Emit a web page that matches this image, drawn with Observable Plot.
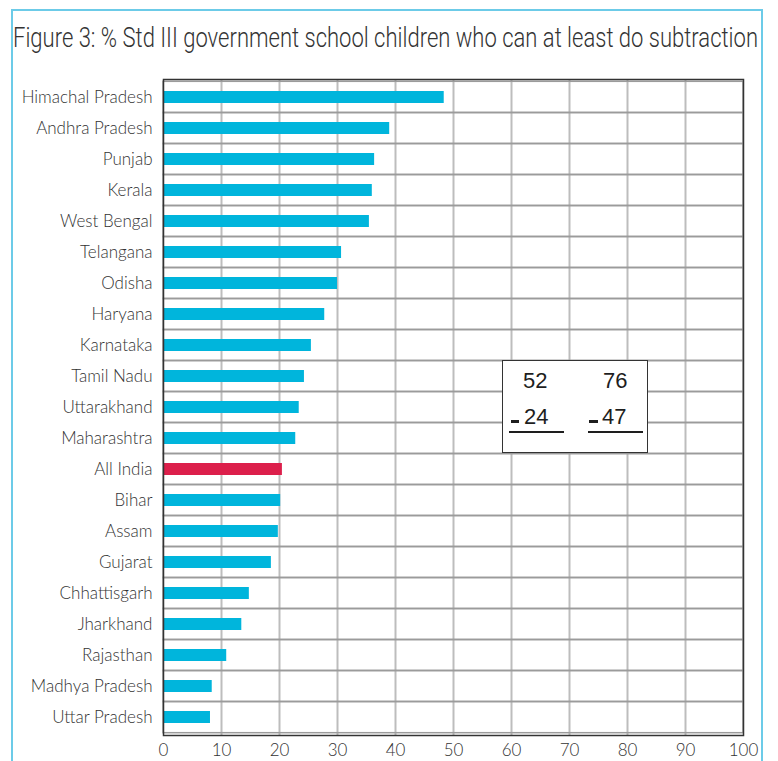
<!DOCTYPE html>
<html>
<head>
<meta charset="utf-8">
<script src="https://cdn.jsdelivr.net/npm/d3@7"></script>
<script src="https://cdn.jsdelivr.net/npm/@observablehq/plot@0.6"></script>
<style>
  html, body { margin: 0; padding: 0; background: #fff; }
  #wrap { position: relative; width: 778px; height: 761px; overflow: hidden; background: #fff; }
  #border { position: absolute; left: 11px; top: 9px; width: 748px; height: 800px;
            border: 2px solid #6ccbe8; border-bottom: none; }
  #title { position: absolute; left: 13px; top: 24px; white-space: nowrap; line-height: 1;
           font-family: Roboto, "Noto Sans", sans-serif; font-weight: 300; font-size: 28px;
           color: #333; transform-origin: 0 0; }
  #chart { position: absolute; left: 0; top: 69px; }
  #chart svg text { font-weight: 300; }
  #inset { position: absolute; left: 502px; top: 360px; width: 144px; height: 91px;
           border: 1.5px solid #333; background: #fff;
           font-family: "Liberation Sans", Arial, sans-serif; font-size: 22px; color: #1e1e1e; }
  .num { position: absolute; line-height: 1; }
  .minus { position: absolute; height: 3px; background: #1e1e1e; }
  .uline { position: absolute; height: 1.5px; background: #1e1e1e; }
</style>
</head>
<body>
<div id="wrap">
  <div id="border"></div>
  <div id="title"></div>
  <div id="chart"></div>
  <div id="inset"></div>
</div>
<script>
const titleText = "Figure 3: % Std III government school children who can at least do subtraction";
const states = ["Himachal Pradesh","Andhra Pradesh","Punjab","Kerala","West Bengal","Telangana","Odisha","Haryana","Karnataka","Tamil Nadu","Uttarakhand","Maharashtra","All India","Bihar","Assam","Gujarat","Chhattisgarh","Jharkhand","Rajasthan","Madhya Pradesh","Uttar Pradesh"];
const values = [48.4,39.0,36.4,36.0,35.5,30.7,30.0,27.8,25.5,24.3,23.4,22.8,20.5,20.2,19.8,18.6,14.8,13.5,10.9,8.4,8.1];
const highlight = "All India";
const xTicks = [0,10,20,30,40,50,60,70,80,90,100];
const gridX = [10,20,30,40,50,60,70,80,90];
const insetTop = ["52","76"];
const insetBottom = ["24","47"];

// title, squeezed horizontally to the frame width
const titleEl = document.getElementById("title");
titleEl.textContent = titleText;
const tw = titleEl.getBoundingClientRect().width;
titleEl.style.transform = "scaleX(" + (745 / tw) + ")";

const data = states.map((s, i) => ({state: s, value: values[i]}));

const W = 778, H = 692, mT = 10, mB = 26, mL = 163, mR = 35;
const step = (H - mT - mB) / states.length;
const pIn = 0.62, pOut = 0.31;
const rowInset = -step * pIn / 2;

const chart = Plot.plot({
  width: W, height: H,
  marginTop: mT, marginBottom: mB, marginLeft: mL, marginRight: mR,
  style: {fontFamily: "Lato, 'Open Sans', sans-serif", fontSize: "17px", color: "#333", background: "transparent"},
  x: {domain: [0, 100], ticks: xTicks, tickSize: 0, tickPadding: 8, label: null},
  y: {domain: states, paddingInner: pIn, paddingOuter: pOut, tickSize: 0, tickPadding: 11, label: null},
  marks: [
    Plot.ruleX(gridX, {stroke: "#bdbdbd", strokeWidth: 2}),
    Plot.barX(states, {x1: 0, x2: 100, y: d => d, fill: "none", stroke: "#9b9b9b", strokeWidth: 1.5,
                       insetTop: rowInset, insetBottom: rowInset}),
    Plot.barX(data, {x: "value", y: "state", fill: d => d.state === highlight ? "#dc1f4b" : "#00b5dc"}),
    Plot.frame({stroke: "#333", strokeWidth: 1.5})
  ]
});
document.getElementById("chart").appendChild(chart);

// subtraction inset
const inset = document.getElementById("inset");
function add(cls, css, text){
  const e = document.createElement("div");
  e.className = cls;
  Object.assign(e.style, css);
  if (text) e.textContent = text;
  inset.appendChild(e);
}
add("num", {left: "20px", top: "9px"}, insetTop[0]);
add("num", {left: "100px", top: "9px"}, insetTop[1]);
add("num", {left: "21px", top: "45px"}, insetBottom[0]);
add("num", {left: "99px", top: "45px"}, insetBottom[1]);
add("minus", {left: "8px", top: "59px", width: "8px"});
add("minus", {left: "86px", top: "59px", width: "9px"});
add("uline", {left: "6px", top: "70px", width: "55px"});
add("uline", {left: "85px", top: "70px", width: "55px"});
</script>
</body>
</html>
